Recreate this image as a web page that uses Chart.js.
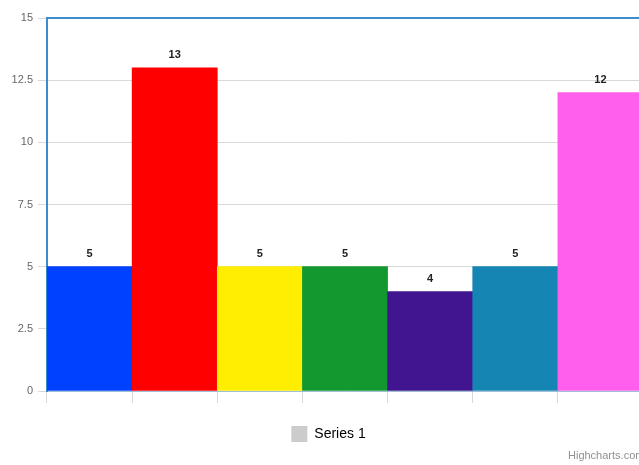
<!DOCTYPE html>
<html>
<head>
<meta charset="utf-8">
<script src="https://cdn.jsdelivr.net/npm/chart.js@4/dist/chart.umd.min.js"></script>
<style>
  html, body { margin: 0; padding: 0; background: #fff; overflow: hidden; }
  #wrap { position: relative; width: 656px; height: 465px; }
</style>
</head>
<body>
<div id="wrap"><canvas id="c" width="656" height="465"></canvas></div>
<script>
// Series data
const categories = ['0', '1', '2', '3', '4', '5', '6'];
const values = [5, 13, 5, 5, 4, 5, 12];
const barColors = ['#0040ff', '#ff0000', '#ffee00', '#12982f', '#40158f', '#1585b4', '#ff5fec'];
const yTicks = [0, 2.5, 5, 7.5, 10, 12.5, 15];
const seriesName = 'Series 1';
const creditText = 'Highcharts.com';

const FONT = '"Liberation Sans", Arial, sans-serif';

// Value labels above each bar
const valueLabels = {
  id: 'valueLabels',
  afterDatasetsDraw(chart) {
    const ctx = chart.ctx;
    const meta = chart.getDatasetMeta(0);
    ctx.save();
    ctx.font = 'bold 11px ' + FONT;
    ctx.fillStyle = '#222';
    ctx.textAlign = 'center';
    ctx.textBaseline = 'middle';
    meta.data.forEach((bar, i) => {
      ctx.fillText(String(chart.data.datasets[0].data[i]), bar.x, bar.y - 13);
    });
    ctx.restore();
  }
};

// Centre the legend on the visible page width rather than the padded box
const legendShift = {
  id: 'legendShift',
  afterLayout(chart) {
    if (chart.legend) {
      chart.legend.left += 7;
      chart.legend.right += 7;
    }
  }
};

// Top frame line of the plot area and the credit text
const frame = {
  id: 'frame',
  afterDraw(chart) {
    const { ctx, chartArea } = chart;
    ctx.save();
    ctx.strokeStyle = '#3b8bcf';
    ctx.lineWidth = 2;
    ctx.beginPath();
    ctx.moveTo(chartArea.left - 1, chartArea.top);
    ctx.lineTo(chart.width, chartArea.top);
    ctx.stroke();
    ctx.font = '11px ' + FONT;
    ctx.fillStyle = '#909090';
    ctx.textAlign = 'left';
    ctx.textBaseline = 'middle';
    ctx.fillText(creditText, 568, 456);
    ctx.restore();
  }
};

new Chart(document.getElementById('c'), {
  type: 'bar',
  data: {
    labels: categories,
    datasets: [{
      label: seriesName,
      data: values,
      backgroundColor: barColors,
      borderWidth: 0,
      categoryPercentage: 1,
      barPercentage: 1
    }]
  },
  options: {
    responsive: false,
    animation: false,
    layout: { padding: { top: 18, right: 13, bottom: 13, left: 0 } },
    plugins: {
      tooltip: { enabled: false },
      legend: {
        position: 'bottom',
        labels: {
          boxWidth: 16,
          boxHeight: 16,
          padding: 23,
          color: '#333',
          font: { family: FONT, size: 14 },
          generateLabels: () => [{
            text: seriesName,
            fillStyle: '#cccccc',
            strokeStyle: '#cccccc',
            lineWidth: 0,
            hidden: false,
            datasetIndex: 0
          }]
        }
      }
    },
    scales: {
      x: {
        offset: true,
        grid: {
          offset: true,
          drawOnChartArea: false,
          drawTicks: true,
          tickLength: 12,
          color: '#d8d8d8'
        },
        border: { color: '#9fbfd6', width: 1 },
        ticks: { display: false },
        afterFit(scale) { scale.height = 12; }
      },
      y: {
        min: 0,
        max: 15,
        afterBuildTicks(scale) { scale.ticks = yTicks.map(v => ({ value: v })); },
        grid: { color: '#d9d9d9', tickLength: 9, drawTicks: true },
        border: { color: '#3b8bcf', width: 2 },
        ticks: {
          color: '#666',
          padding: 5,
          font: { family: FONT, size: 11 }
        },
        afterFit(scale) { scale.width = 47; }
      }
    }
  },
  plugins: [valueLabels, legendShift, frame]
});
</script>
</body>
</html>
